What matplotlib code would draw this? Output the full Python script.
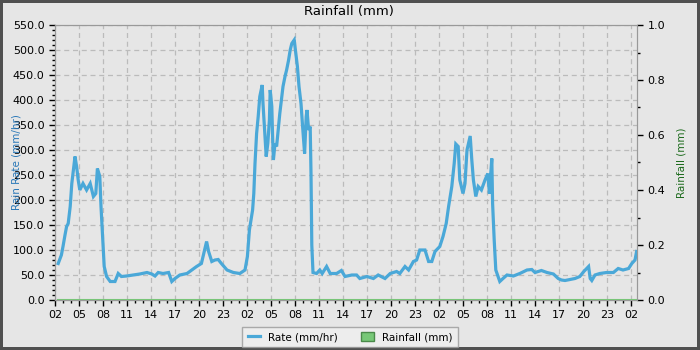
import matplotlib
matplotlib.use("Agg")
import matplotlib.pyplot as plt
from matplotlib.ticker import MultipleLocator, FormatStrFormatter
from matplotlib.lines import Line2D
from matplotlib.patches import Patch

# hours since the first "02" tick, and rain rate (mm/hr)
hours = [0.4, 0.8, 1.0, 1.25, 1.45, 1.65, 1.9, 2.1, 2.3, 2.5, 2.7, 2.9, 3.1, 3.5,
         3.95, 4.4, 4.8, 5.1, 5.3, 5.6, 5.75, 5.95, 6.15, 6.45, 6.9, 7.5, 7.9, 8.3,
         8.95, 9.8, 10.6, 11.5, 12.1, 12.5, 12.9, 13.5, 14.2, 14.6, 15.0, 15.6, 16.5,
         17.1, 17.7, 18.3, 18.6, 18.95, 19.2, 19.6, 20.0, 20.4, 20.8, 21.5, 22.3,
         23.1, 23.75, 24.05, 24.3, 24.5, 24.7, 24.85, 25.0, 25.2, 25.4, 25.6, 25.9,
         26.0, 26.2, 26.4, 26.6, 26.8, 26.9, 27.1, 27.2, 27.3, 27.5, 27.7, 27.9,
         28.1, 28.3, 28.5, 28.75, 28.95, 29.2, 29.4, 29.6, 29.9, 30.1, 30.3, 30.5,
         30.75, 30.95, 31.2, 31.4, 31.5, 31.7, 31.9, 32.0, 32.1, 32.25, 32.7, 33.1,
         33.4, 33.95, 34.4, 35.2, 35.8, 36.25, 37.1, 37.7, 38.1, 39.0, 39.8, 40.4,
         41.25, 41.9, 42.7, 43.1, 43.75, 44.2, 44.8, 45.2, 45.6, 46.25, 46.7, 47.1,
         47.5, 48.1, 48.5, 48.9, 49.2, 49.6, 49.9, 50.1, 50.4, 50.6, 51.0, 51.25,
         51.5, 51.9, 52.1, 52.3, 52.6, 52.9, 53.3, 53.75, 54.1, 54.3, 54.6, 54.7,
         54.9, 55.1, 55.6, 56.0, 56.5, 57.3, 58.1, 59.0, 59.6, 60.0, 60.8, 61.5,
         62.3, 62.9, 63.3, 63.75, 64.4, 65.0, 65.6, 66.1, 66.7, 66.9, 67.1, 67.5,
         68.1, 68.95, 69.8, 70.4, 71.0, 71.7, 72.1, 72.5, 72.7]
rate = [73, 90, 107, 130, 147, 153, 187, 233, 260, 287, 267, 240, 220, 233,
        220, 233, 207, 213, 263, 247, 187, 127, 67, 47, 37, 37, 53, 47,
        48, 50, 52, 55, 52, 48, 55, 53, 55, 37, 43, 50, 53,
        60, 67, 73, 93, 117, 97, 77, 80, 81, 73, 60, 55,
        53, 60, 87, 140, 160, 180, 213, 273, 333, 367, 407, 430,
        393, 340, 287, 313, 360, 420, 387, 327, 280, 313, 307, 340,
        373, 400, 427, 447, 460, 480, 500, 513, 520, 493, 467, 427,
        393, 347, 293, 367, 380, 340, 347, 253, 110, 55, 53, 60,
        53, 67, 53, 53, 59, 47, 50, 50, 43, 47, 43, 50,
        43, 53, 57, 53, 67, 60, 77, 80, 100, 100, 77, 77,
        97, 107, 127, 153, 187, 227, 273, 312, 307, 240, 213, 233,
        300, 328, 280, 240, 207, 227, 220, 240, 253, 213, 283, 193,
        120, 60, 37, 43, 50, 48, 53, 60, 61, 55, 59, 55,
        52, 43, 40, 39, 41, 43, 47, 57, 67, 43, 39, 50,
        53, 55, 55, 63, 60, 63, 73, 80, 97]

rain_hours = [0.4, 72.7]
rain_mm = [0.0, 0.0]

tick_hours = list(range(0, 73, 3))
tick_labels = ["02", "05", "08", "11", "14", "17", "20", "23"] * 3 + ["02"]

bg = "#e6e6e6"
blue = "#4aa8d8"
green = "#77c877"

fig = plt.figure(figsize=(7, 3.5), dpi=100, facecolor=bg,
                 edgecolor="#505050", linewidth=3)
ax = fig.add_axes([55 / 700, 50 / 350, 582 / 700, 275 / 350], facecolor=bg)
ax2 = ax.twinx()

ax.plot(hours, rate, color=blue, lw=2.3, solid_joinstyle="miter", zorder=3)
ax2.plot(rain_hours, rain_mm, color=green, lw=1.5, clip_on=False, zorder=2)

ax.set_xlim(0, 72.75)
ax.set_ylim(0, 550)
ax2.set_ylim(0, 1.0)

ax.set_xticks(tick_hours)
ax.set_xticklabels(tick_labels)
ax.xaxis.set_minor_locator(MultipleLocator(1))
ax.yaxis.set_major_locator(MultipleLocator(50))
ax.yaxis.set_minor_locator(MultipleLocator(10))
ax.yaxis.set_major_formatter(FormatStrFormatter("%.1f"))
ax2.yaxis.set_major_locator(MultipleLocator(0.2))
ax2.yaxis.set_minor_locator(MultipleLocator(0.1))
ax2.yaxis.set_major_formatter(FormatStrFormatter("%.1f"))

for a in (ax, ax2):
    a.tick_params(which="major", length=4, width=1, labelsize=8, color="black")
    a.tick_params(which="minor", length=2, width=1, color="black")
    for s in a.spines.values():
        s.set_color("#999999")

ax.grid(True, which="major", color="#bbbbbb", linestyle=(0, (4, 3)), lw=0.9)
ax.set_axisbelow(True)

ax.set_ylabel("Rain Rate (mm/hr)", color="#2a78b8", fontsize=7.5, labelpad=-6)
ax2.set_ylabel("Rainfall (mm)", color="#1d6b1d", fontsize=7.5, labelpad=8)
fig.text(349 / 700, 1 - 12 / 350, "Rainfall (mm)", ha="center", va="center",
         fontsize=9.5)

handles = [Line2D([0], [0], color=blue, lw=2.3),
           Patch(facecolor=green, edgecolor="#4a8a4a")]
leg = fig.legend(handles, ["Rate (mm/hr)", "Rainfall (mm)"], ncol=2,
                 loc="center", bbox_to_anchor=(350 / 700, 1 - 337 / 350),
                 fontsize=7.5, frameon=True, fancybox=False, handlelength=1.2,
                 handleheight=0.9, columnspacing=2.2, borderpad=0.5)
leg.get_frame().set_facecolor("#f0f0f0")
leg.get_frame().set_edgecolor("#999999")

fig.savefig("out.png", dpi=100, facecolor=bg, edgecolor="#505050")
